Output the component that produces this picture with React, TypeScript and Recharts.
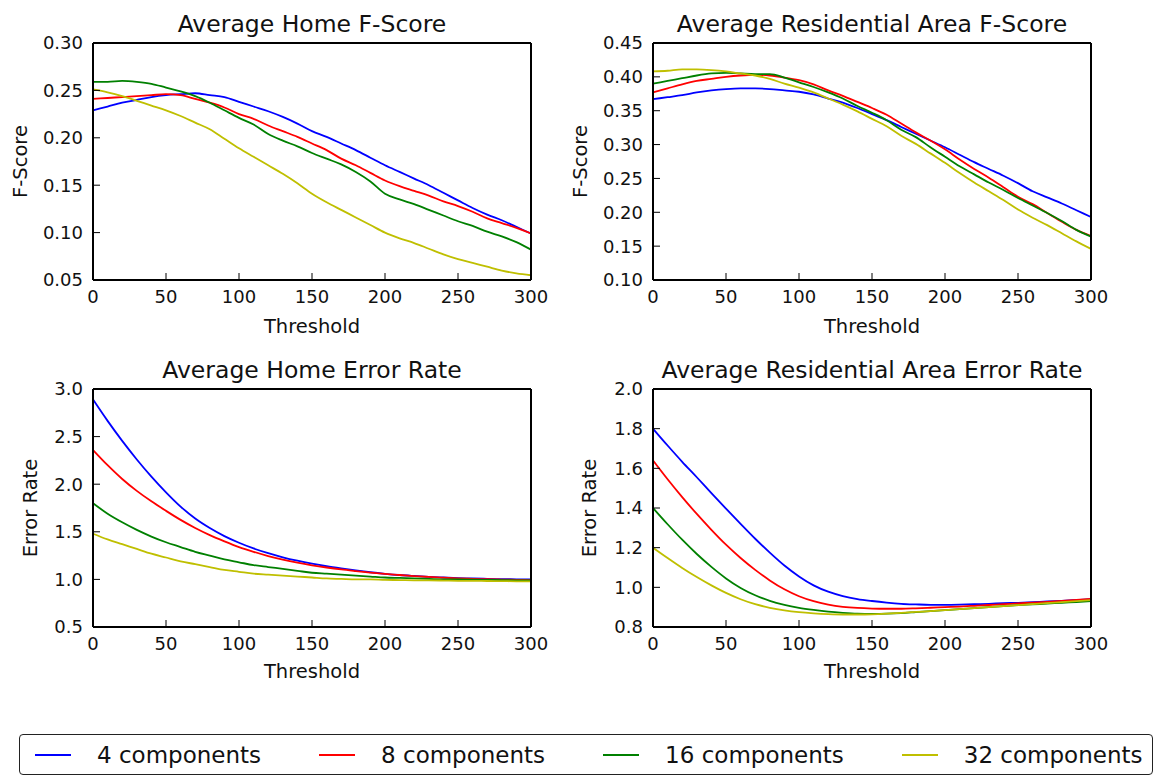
import { LineChart, Line, XAxis, YAxis } from "recharts";

// thresholds sampled every 10 units
const thresholds = [
  0, 10, 20, 30, 40, 50, 60, 70, 80, 90, 100, 110, 120, 130, 140, 150, 160, 170, 180, 190, 200,
  210, 220, 230, 240, 250, 260, 270, 280, 290, 300,
];
const thresholdTicks = [0, 50, 100, 150, 200, 250, 300];

const seriesNames = ["4 components", "8 components", "16 components", "32 components"];
const seriesColors = ["#0000ff", "#ff0000", "#008000", "#bfbf00"];

// Average Home F-Score
const homeF4 = [0.229, 0.233, 0.237, 0.24, 0.243, 0.245, 0.246, 0.247, 0.245, 0.243, 0.238, 0.233, 0.228, 0.222, 0.215, 0.207, 0.201, 0.194, 0.187, 0.179, 0.171, 0.164, 0.157, 0.15, 0.142, 0.134, 0.126, 0.119, 0.113, 0.106, 0.099];
const homeF8 = [0.241, 0.242, 0.243, 0.244, 0.245, 0.246, 0.245, 0.241, 0.237, 0.232, 0.225, 0.22, 0.213, 0.207, 0.201, 0.194, 0.187, 0.178, 0.171, 0.163, 0.155, 0.149, 0.144, 0.139, 0.133, 0.128, 0.122, 0.115, 0.11, 0.105, 0.099];
const homeF16 = [0.259, 0.259, 0.26, 0.259, 0.257, 0.253, 0.249, 0.244, 0.237, 0.229, 0.221, 0.214, 0.204, 0.197, 0.191, 0.184, 0.178, 0.172, 0.164, 0.154, 0.141, 0.135, 0.13, 0.124, 0.118, 0.112, 0.107, 0.101, 0.096, 0.09, 0.082];
const homeF32 = [0.251, 0.248, 0.244, 0.239, 0.234, 0.229, 0.223, 0.216, 0.209, 0.199, 0.189, 0.18, 0.171, 0.162, 0.152, 0.141, 0.132, 0.124, 0.116, 0.108, 0.1, 0.094, 0.089, 0.083, 0.077, 0.072, 0.068, 0.064, 0.06, 0.057, 0.055];
const homeFTicks = [0.05, 0.1, 0.15, 0.2, 0.25, 0.3];

// Average Residential Area F-Score
const resF4 = [0.367, 0.37, 0.373, 0.377, 0.38, 0.382, 0.383, 0.383, 0.382, 0.38, 0.378, 0.374, 0.368, 0.362, 0.354, 0.345, 0.336, 0.326, 0.316, 0.306, 0.296, 0.285, 0.274, 0.264, 0.254, 0.243, 0.231, 0.222, 0.213, 0.203, 0.193];
const resF8 = [0.377, 0.383, 0.389, 0.394, 0.397, 0.4, 0.402, 0.403, 0.402, 0.399, 0.395, 0.389, 0.38, 0.372, 0.363, 0.354, 0.344, 0.331, 0.318, 0.306, 0.293, 0.278, 0.264, 0.251, 0.237, 0.223, 0.212, 0.199, 0.186, 0.174, 0.165];
const resF16 = [0.39, 0.394, 0.398, 0.402, 0.405, 0.406, 0.405, 0.404, 0.404, 0.399, 0.392, 0.385, 0.377, 0.368, 0.357, 0.347, 0.336, 0.322, 0.311, 0.296, 0.282, 0.268, 0.256, 0.244, 0.233, 0.221, 0.21, 0.199, 0.187, 0.174, 0.164];
const resF32 = [0.408, 0.409, 0.411, 0.411, 0.41, 0.408, 0.405, 0.402, 0.397, 0.39, 0.384, 0.377, 0.368, 0.359, 0.349, 0.338, 0.327, 0.313, 0.301, 0.287, 0.273, 0.258, 0.244, 0.231, 0.218, 0.204, 0.192, 0.181, 0.169, 0.157, 0.146];
const resFTicks = [0.1, 0.15, 0.2, 0.25, 0.3, 0.35, 0.4, 0.45];

// Average Home Error Rate
const homeE4 = [2.89, 2.665, 2.455, 2.26, 2.08, 1.915, 1.765, 1.64, 1.54, 1.455, 1.385, 1.325, 1.275, 1.232, 1.196, 1.165, 1.138, 1.115, 1.094, 1.075, 1.059, 1.046, 1.036, 1.027, 1.02, 1.014, 1.01, 1.006, 1.003, 1.001, 1.0];
const homeE8 = [2.36, 2.2, 2.055, 1.93, 1.82, 1.72, 1.625, 1.54, 1.465, 1.4, 1.34, 1.29, 1.245, 1.207, 1.175, 1.148, 1.125, 1.105, 1.088, 1.072, 1.058, 1.046, 1.035, 1.026, 1.018, 1.011, 1.006, 1.002, 0.998, 0.995, 0.992];
const homeE16 = [1.8, 1.69, 1.6, 1.52, 1.45, 1.39, 1.34, 1.29, 1.25, 1.21, 1.18, 1.15, 1.13, 1.11, 1.09, 1.07, 1.06, 1.05, 1.04, 1.03, 1.02, 1.015, 1.01, 1.005, 1.0, 1.0, 0.998, 0.995, 0.993, 0.99, 0.99];
const homeE32 = [1.48, 1.42, 1.37, 1.32, 1.27, 1.23, 1.19, 1.16, 1.13, 1.1, 1.08, 1.06, 1.05, 1.04, 1.03, 1.02, 1.01, 1.005, 1.0, 1.0, 0.995, 0.993, 0.99, 0.99, 0.988, 0.985, 0.985, 0.983, 0.982, 0.98, 0.98];
const homeETicks = [0.5, 1.0, 1.5, 2.0, 2.5, 3.0];

// Average Residential Area Error Rate
const resE4 = [1.8, 1.715, 1.633, 1.555, 1.475, 1.397, 1.32, 1.245, 1.175, 1.11, 1.055, 1.01, 0.978, 0.956, 0.941, 0.931, 0.923, 0.917, 0.914, 0.912, 0.912, 0.913, 0.915, 0.917, 0.92, 0.922, 0.925, 0.929, 0.932, 0.936, 0.94];
const resE8 = [1.64, 1.545, 1.455, 1.37, 1.29, 1.215, 1.148, 1.088, 1.035, 0.99, 0.955, 0.93, 0.913, 0.902, 0.896, 0.893, 0.892, 0.892, 0.894, 0.897, 0.9, 0.903, 0.907, 0.911, 0.915, 0.919, 0.923, 0.927, 0.932, 0.937, 0.942];
const resE16 = [1.4, 1.318, 1.24, 1.168, 1.103, 1.045, 0.997, 0.96, 0.932, 0.912, 0.897, 0.886, 0.877, 0.871, 0.867, 0.866, 0.867, 0.87, 0.875, 0.88, 0.885, 0.89, 0.895, 0.9, 0.905, 0.91, 0.914, 0.918, 0.922, 0.926, 0.93];
const resE32 = [1.2, 1.148, 1.098, 1.052, 1.01, 0.972, 0.94, 0.915, 0.897, 0.884, 0.875, 0.869, 0.865, 0.863, 0.863, 0.864, 0.867, 0.871, 0.876, 0.88, 0.885, 0.89, 0.895, 0.9, 0.905, 0.91, 0.915, 0.92, 0.925, 0.93, 0.935];
const resETicks = [0.8, 1.0, 1.2, 1.4, 1.6, 1.8, 2.0];

const FONT = '"DejaVu Sans", sans-serif';
const INK = "#111";
const KEYS = ["s4", "s8", "s16", "s32"];

const buildRows = (series: number[][]) =>
  thresholds.map((t, i) => {
    const row: Record<string, number> = { t };
    series.forEach((vals, k) => (row[KEYS[k]] = vals[i]));
    return row;
  });

type PanelProps = {
  left: number;
  top: number;
  width: number;
  height: number;
  marginTop: number;
  marginRight: number;
  xAxisHeight: number;
  series: number[][];
  yTicks: number[];
  digits: number;
};

const Panel = ({ left, top, width, height, marginTop, marginRight, xAxisHeight, series, yTicks, digits }: PanelProps) => {
  const data = buildRows(series);
  const domain = [yTicks[0], yTicks[yTicks.length - 1]];
  const tickStyle = { fontSize: 18, fill: INK, fontFamily: FONT };
  const frame = { stroke: "#000", strokeWidth: 2 };
  return (
    <div style={{ position: "absolute", left, top }}>
      <LineChart width={width} height={height} data={data} margin={{ top: marginTop, right: marginRight, bottom: 0, left: 0 }}>
        <XAxis
          dataKey="t"
          type="number"
          domain={[0, 300]}
          ticks={thresholdTicks}
          height={xAxisHeight}
          tickSize={-7}
          tickMargin={17}
          tick={tickStyle}
          axisLine={frame}
          tickLine={{ stroke: "#000" }}
        />
        <XAxis
          xAxisId="top"
          orientation="top"
          type="number"
          domain={[0, 300]}
          ticks={thresholdTicks}
          height={1}
          tickSize={-7}
          tick={false}
          axisLine={frame}
          tickLine={{ stroke: "#000" }}
        />
        <YAxis
          type="number"
          domain={domain}
          ticks={yTicks}
          width={93}
          tickSize={-7}
          tickMargin={17}
          tick={tickStyle}
          tickFormatter={(v: number) => v.toFixed(digits)}
          axisLine={frame}
          tickLine={{ stroke: "#000" }}
        />
        <YAxis
          yAxisId="right"
          orientation="right"
          type="number"
          domain={domain}
          ticks={yTicks}
          width={1}
          tickSize={-7}
          tick={false}
          axisLine={frame}
          tickLine={{ stroke: "#000" }}
        />
        {KEYS.map((k, i) => (
          <Line
            key={k}
            dataKey={k}
            type="monotone"
            stroke={seriesColors[i]}
            strokeWidth={1.8}
            dot={false}
            isAnimationActive={false}
          />
        ))}
      </LineChart>
    </div>
  );
};

// titles and axis labels for each panel
const labels = [
  { title: "Average Home F-Score", yLabel: "F-Score", cx: 312, cy: 161.5, titleY: 32, xLabelY: 333, yLabelX: 20 },
  { title: "Average Residential Area F-Score", yLabel: "F-Score", cx: 872, cy: 161.5, titleY: 32, xLabelY: 333, yLabelX: 580 },
  { title: "Average Home Error Rate", yLabel: "Error Rate", cx: 312, cy: 508, titleY: 378, xLabelY: 678, yLabelX: 30 },
  { title: "Average Residential Area Error Rate", yLabel: "Error Rate", cx: 872, cy: 508, titleY: 378, xLabelY: 678, yLabelX: 589 },
];

export default function App() {
  return (
    <div style={{ position: "absolute", left: 0, top: 0, width: 1156, height: 777, background: "#fff", fontFamily: FONT }}>
      <Panel left={0} top={0} width={560} height={340} marginTop={42} marginRight={28} xAxisHeight={60}
        series={[homeF4, homeF8, homeF16, homeF32]} yTicks={homeFTicks} digits={2} />
      <Panel left={560} top={0} width={596} height={340} marginTop={42} marginRight={64} xAxisHeight={60}
        series={[resF4, resF8, resF16, resF32]} yTicks={resFTicks} digits={2} />
      <Panel left={0} top={345} width={560} height={340} marginTop={43} marginRight={28} xAxisHeight={58}
        series={[homeE4, homeE8, homeE16, homeE32]} yTicks={homeETicks} digits={1} />
      <Panel left={560} top={345} width={596} height={340} marginTop={43} marginRight={64} xAxisHeight={58}
        series={[resE4, resE8, resE16, resE32]} yTicks={resETicks} digits={1} />

      <svg width={1156} height={777} style={{ position: "absolute", left: 0, top: 0, pointerEvents: "none" }}>
        {labels.map((l) => (
          <g key={l.title} fill={INK} fontFamily={FONT}>
            <text x={l.cx} y={l.titleY} fontSize={23.5} textAnchor="middle">{l.title}</text>
            <text x={l.cx} y={l.xLabelY} fontSize={19.5} textAnchor="middle">Threshold</text>
            <text
              x={l.yLabelX}
              y={l.cy}
              fontSize={19.5}
              textAnchor="middle"
              dominantBaseline="central"
              transform={`rotate(-90 ${l.yLabelX} ${l.cy})`}
            >
              {l.yLabel}
            </text>
          </g>
        ))}
      </svg>

      <div
        style={{
          position: "absolute",
          left: 19,
          top: 734,
          width: 1134,
          height: 41,
          boxSizing: "border-box",
          border: "1px solid #222",
          borderRadius: 4,
          display: "flex",
          alignItems: "center",
          paddingLeft: 15,
          gap: 58,
          fontSize: 23,
          color: INK,
        }}
      >
        {seriesNames.map((name, i) => (
          <div key={name} style={{ display: "flex", alignItems: "center", gap: 26 }}>
            <div style={{ width: 36, height: 2, background: seriesColors[i] }} />
            <span style={{ whiteSpace: "nowrap" }}>{name}</span>
          </div>
        ))}
      </div>
    </div>
  );
}
